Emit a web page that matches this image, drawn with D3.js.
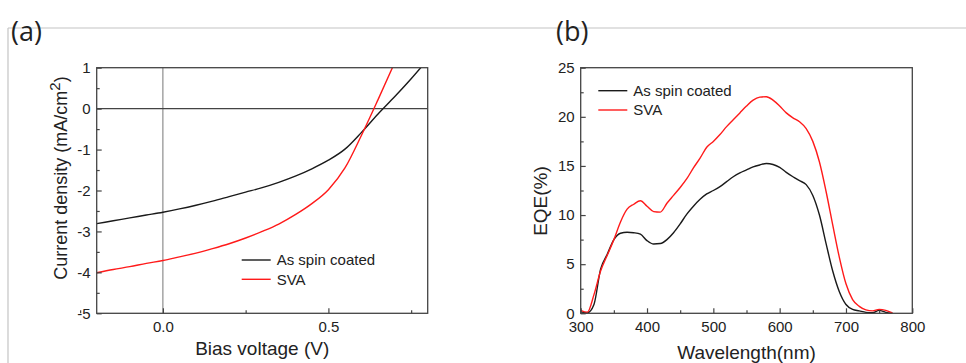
<!DOCTYPE html>
<html>
<head>
<meta charset="utf-8">
<script src="https://cdn.jsdelivr.net/npm/d3@7"></script>
<style>
  body { margin: 0; background: #fff; }
  svg { display: block; font-family: "Liberation Sans", Arial, sans-serif; }
</style>
</head>
<body>
<div class="main"></div>
<script>
// panel (a) J-V curves
const voltage = [-0.2, -0.15, -0.1, -0.05, 0, 0.05, 0.1, 0.15, 0.2, 0.25, 0.3, 0.35, 0.4, 0.45, 0.5, 0.55, 0.6, 0.65, 0.7, 0.75, 0.8];
const jAsSpun = [-2.81, -2.74, -2.67, -2.6, -2.53, -2.45, -2.36, -2.26, -2.15, -2.04, -1.93, -1.8, -1.65, -1.47, -1.26, -0.99, -0.58, -0.13, 0.29, 0.73, 1.2];
const jSva = [-4.01, -3.93, -3.86, -3.78, -3.71, -3.62, -3.53, -3.42, -3.3, -3.16, -3.0, -2.82, -2.59, -2.32, -1.98, -1.45, -0.65, 0.22, 1.12, null, null];
const vTicks = [0, 0.5];
const vMinor = [-0.25, 0.25, 0.75];
const jTicks = [1, 0, -1, -2, -3, -4, -5];
const jMinor = [0.5, -0.5, -1.5, -2.5, -3.5, -4.5];

// panel (b) EQE spectra
const wavelength = [300, 310, 320, 330, 340, 350, 360, 370, 380, 390, 400, 410, 420, 430, 440, 450, 460, 470, 480, 490, 500, 510, 520, 530, 540, 550, 560, 570, 580, 590, 600, 610, 620, 630, 640, 650, 660, 670, 680, 690, 700, 710, 720, 730, 740, 750, 760, 770];
const eqeAsSpun = [0.15, 0.05, 0.9, 4.5, 6.0, 7.5, 8.15, 8.25, 8.2, 8.05, 7.4, 7.05, 7.1, 7.5, 8.2, 9.1, 10.1, 10.9, 11.6, 12.15, 12.5, 12.9, 13.4, 13.9, 14.3, 14.6, 14.9, 15.1, 15.25, 15.15, 14.85, 14.35, 13.9, 13.5, 13.1, 12.0, 10.0, 7.1, 4.3, 2.2, 0.9, 0.4, 0.25, 0.1, 0.05, 0.3, 0.1, 0.0];
const eqeSva = [0.3, 0.1, 1.9, 4.3, 5.9, 7.5, 9.3, 10.6, 11.1, 11.45, 10.9, 10.35, 10.3, 11.2, 12.0, 12.8, 13.7, 14.8, 15.8, 16.9, 17.5, 18.2, 19.0, 19.7, 20.4, 21.1, 21.7, 22.0, 22.05, 21.7, 21.1, 20.4, 19.9, 19.5, 18.8, 17.5, 15.4, 12.4, 9.0, 5.7, 3.0, 1.4, 0.7, 0.35, 0.25, 0.4, 0.3, 0.05];
const wTicks = [300, 400, 500, 600, 700, 800];
const wMinor = [350, 450, 550, 650, 750];
const eqeTicks = [0, 5, 10, 15, 20, 25];
const eqeMinor = [2.5, 7.5, 12.5, 17.5, 22.5];

const seriesNames = ["As spin coated", "SVA"];
const colors = ["#1a1a1a", "#ff1a1a"];

const fullwidth = 966;
const fullheight = 363;
const plotTop = 67.7;
const plotBottom = 313.3;

// plain hyphen for negatives, like the original
const intFmt = (d) => String(d);
const oneDec = (d) => d.toFixed(1);

const svg = d3
  .select(".main")
  .append("svg")
  .attr("width", fullwidth)
  .attr("height", fullheight);

// outer figure border
svg.append("line")
  .attr("x1", 8).attr("x2", fullwidth).attr("y1", 28).attr("y2", 28)
  .attr("stroke", "#c4c4c4").attr("stroke-width", 1.2);
svg.append("line")
  .attr("x1", 8).attr("x2", 8).attr("y1", 28).attr("y2", fullheight)
  .attr("stroke", "#c4c4c4").attr("stroke-width", 1.2);

function panelLabel(txt, x) {
  svg.append("text")
    .attr("x", x).attr("y", 41)
    .attr("font-family", "'Open Sans', sans-serif")
    .attr("font-size", 27)
    .attr("fill", "#222")
    .text(txt);
}
panelLabel("(a)", 11);
panelLabel("(b)", 556);

function drawAxes(g, x, y, xt, xm, yt, ym, xfmt, yfmt) {
  g.append("g")
    .attr("transform", "translate(0," + plotBottom + ")")
    .call(d3.axisBottom(x).tickValues(xt).tickFormat(xfmt).tickSizeInner(-5).tickSizeOuter(0).tickPadding(8));
  g.append("g")
    .attr("transform", "translate(0," + plotBottom + ")")
    .call(d3.axisBottom(x).tickValues(xm).tickFormat("").tickSizeInner(-3).tickSizeOuter(0));
  g.append("g")
    .attr("transform", "translate(" + x.range()[0] + ",0)")
    .call(d3.axisLeft(y).tickValues(yt).tickFormat(yfmt).tickSizeInner(-5).tickSizeOuter(0).tickPadding(6));
  g.append("g")
    .attr("transform", "translate(" + x.range()[0] + ",0)")
    .call(d3.axisLeft(y).tickValues(ym).tickFormat("").tickSizeInner(-3).tickSizeOuter(0));
  g.selectAll(".domain").remove();
  g.selectAll(".tick line").attr("stroke", "#444").attr("stroke-width", 1.2);
  g.selectAll(".tick text")
    .attr("font-family", "'Liberation Sans', Arial, sans-serif")
    .attr("font-size", 15)
    .attr("fill", "#222");
  // frame
  g.append("rect")
    .attr("x", x.range()[0]).attr("y", plotTop)
    .attr("width", x.range()[1] - x.range()[0])
    .attr("height", plotBottom - plotTop)
    .attr("fill", "none")
    .attr("stroke", "#444")
    .attr("stroke-width", 1.3);
}

function legend(g, x0, y0, gap) {
  seriesNames.forEach((name, i) => {
    g.append("line")
      .attr("x1", x0).attr("x2", x0 + 29)
      .attr("y1", y0 + i * gap).attr("y2", y0 + i * gap)
      .attr("stroke", colors[i]).attr("stroke-width", 1.4);
    g.append("text")
      .attr("x", x0 + 35).attr("y", y0 + i * gap)
      .attr("dy", "0.35em")
      .attr("font-size", 15)
      .attr("fill", "#222")
      .text(name);
  });
}

// ---------- panel (a)
const ga = svg.append("g");
const xa = d3.scaleLinear().domain([-0.2, 0.8]).range([96.7, 427.7]);
const ya = d3.scaleLinear().domain([-5, 1]).range([plotBottom, plotTop]);

svg.append("clipPath").attr("id", "clipa")
  .append("rect")
  .attr("x", xa.range()[0]).attr("y", plotTop)
  .attr("width", xa.range()[1] - xa.range()[0]).attr("height", plotBottom - plotTop);

ga.append("line")
  .attr("x1", xa(0)).attr("x2", xa(0)).attr("y1", plotTop).attr("y2", plotBottom)
  .attr("stroke", "#777").attr("stroke-width", 1);
ga.append("line")
  .attr("x1", xa.range()[0]).attr("x2", xa.range()[1]).attr("y1", ya(0)).attr("y2", ya(0))
  .attr("stroke", "#444").attr("stroke-width", 1.3);

const lineA = d3.line()
  .defined((d) => d[1] !== null)
  .x((d) => xa(d[0]))
  .y((d) => ya(d[1]))
  .curve(d3.curveMonotoneX);

[jAsSpun, jSva].forEach((vals, i) => {
  ga.append("path")
    .datum(voltage.map((v, k) => [v, vals[k]]))
    .attr("clip-path", "url(#clipa)")
    .attr("fill", "none")
    .attr("stroke", colors[i])
    .attr("stroke-width", 1.4)
    .attr("d", lineA);
});

drawAxes(ga, xa, ya, vTicks, vMinor, jTicks, jMinor, oneDec, intFmt);
legend(ga, 241.7, 260, 19.3);

ga.append("text")
  .attr("x", xa(0.3)).attr("y", 355)
  .attr("text-anchor", "middle")
  .attr("font-size", 19)
  .attr("fill", "#222")
  .text("Bias voltage (V)");

const yta = ga.append("text")
  .attr("transform", "translate(67,178) rotate(-90)")
  .attr("text-anchor", "middle")
  .attr("font-size", 18)
  .attr("fill", "#222");
yta.append("tspan").text("Current density (mA/cm");
yta.append("tspan").attr("dy", -7).attr("font-size", 15).text("2");
yta.append("tspan").attr("dy", 7).text(")");

// ---------- panel (b)
const gb = svg.append("g");
const xb = d3.scaleLinear().domain([300, 800]).range([580.7, 912.3]);
const yb = d3.scaleLinear().domain([0, 25]).range([plotBottom, plotTop]);

const lineB = d3.line()
  .x((d) => xb(d[0]))
  .y((d) => yb(d[1]))
  .curve(d3.curveMonotoneX);

[eqeAsSpun, eqeSva].forEach((vals, i) => {
  gb.append("path")
    .datum(wavelength.map((w, k) => [w, vals[k]]))
    .attr("fill", "none")
    .attr("stroke", colors[i])
    .attr("stroke-width", 1.4)
    .attr("d", lineB);
});

drawAxes(gb, xb, yb, wTicks, wMinor, eqeTicks, eqeMinor, intFmt, intFmt);
legend(gb, 598.3, 90.7, 19.3);

gb.append("text")
  .attr("x", xb(550)).attr("y", 359)
  .attr("text-anchor", "middle")
  .attr("font-size", 19)
  .attr("fill", "#222")
  .text("Wavelength(nm)");

gb.append("text")
  .attr("transform", "translate(547,201) rotate(-90)")
  .attr("text-anchor", "middle")
  .attr("font-size", 19)
  .attr("fill", "#222")
  .text("EQE(%)");
</script>
</body>
</html>
